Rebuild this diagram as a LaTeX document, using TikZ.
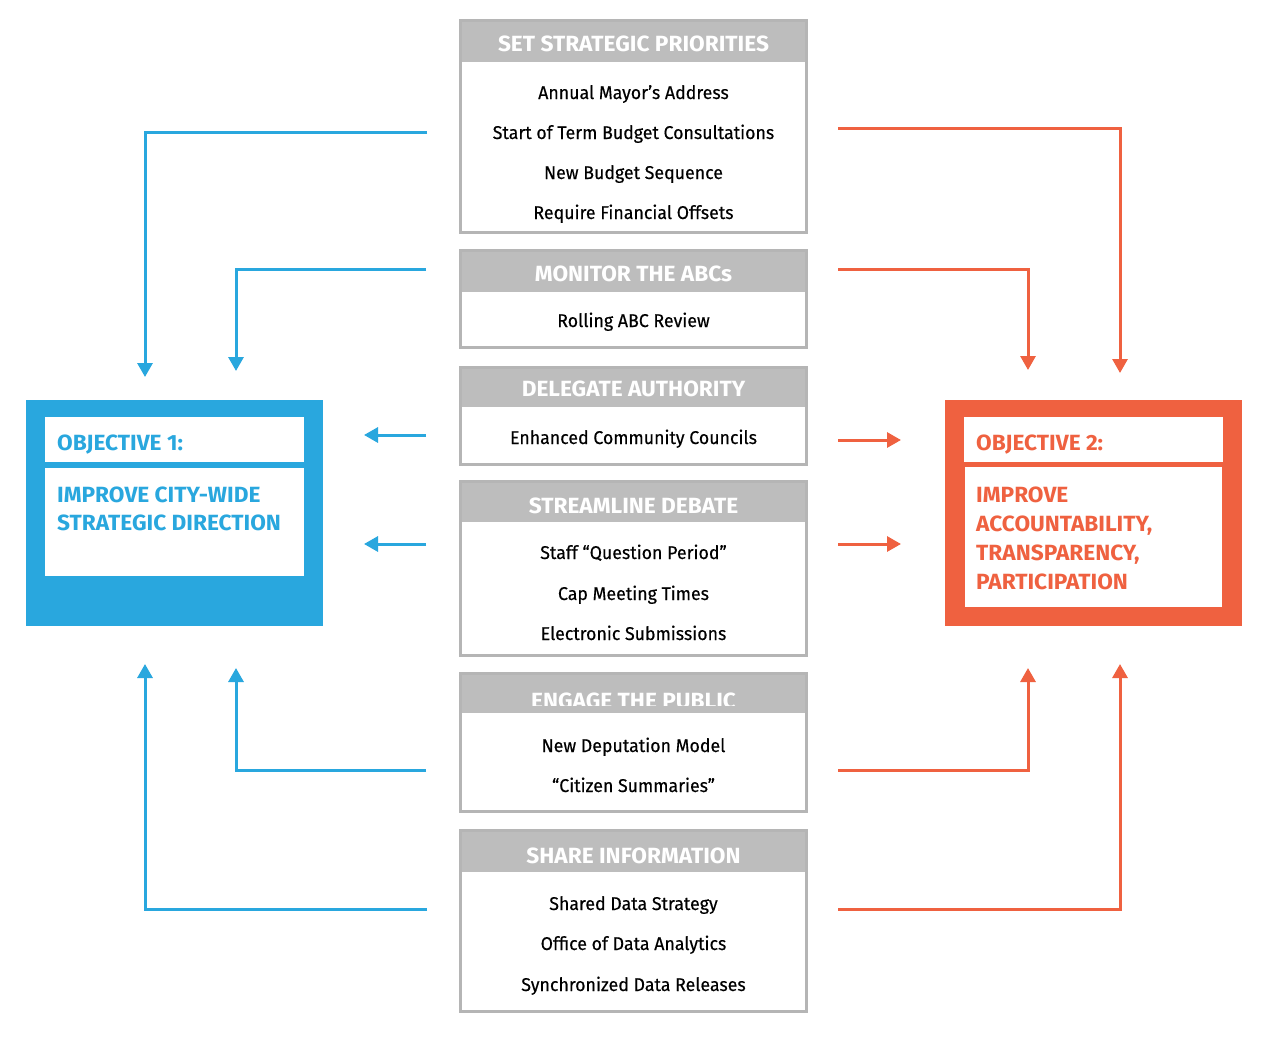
\documentclass[tikz,border=0pt]{standalone}
\usepackage{fontspec}
\setmainfont{Fira Sans}
\newfontfamily\bodyf[FakeStretch=0.96,FakeBold=0.35]{Fira Sans}
\newfontfamily\headf[FakeStretch=1.03]{Fira Sans}
\usetikzlibrary{arrows.meta}
\definecolor{cblue}{HTML}{29A7DE}
\definecolor{corange}{HTML}{EF6140}
\definecolor{gborder}{HTML}{B5B5B5}
\definecolor{ghead}{HTML}{BDBDBD}
\tikzset{
  item/.style={anchor=base, inner sep=0pt, font=\bodyf\fontsize{18.5}{21}\selectfont, text=black},
  hdr/.style={anchor=base, inner sep=0pt, font=\headf\bfseries\fontsize{22}{24}\selectfont, text=white},
  objt/.style={anchor=base west, inner sep=0pt, font=\headf\bfseries\fontsize{22}{29}\selectfont, align=left},
  bconn/.style={draw=cblue, line width=3pt, -{Triangle[width=15pt,length=14pt]}},
  oconn/.style={draw=corange, line width=3pt, -{Triangle[width=15pt,length=14pt]}},
}
% \mkbox{name}{top}{bottom}{header bottom}{title}{title baseline}{title clip y}
\newcommand\mkbox[7]{%
  \fill[ghead] (459,#2) rectangle (808,#4);
  \begin{scope}
    \clip (459,#2) rectangle (808,#7);
    \node[hdr] (#1h) at (633.5,#6) {#5};
  \end{scope}
  \fill[white] (459,#4) rectangle (808,#3);
  \node[draw=gborder, line width=2.8pt, minimum width=346, minimum height={#3-#2-3}, inner sep=0pt] (#1) at (633.5,{(#2+#3)/2}) {};
}
\begin{document}
\begin{tikzpicture}[x=1pt,y=-1pt]
\useasboundingbox (0,0) rectangle (1274,1036);
\fill[white] (0,0) rectangle (1274,1036);

% centre boxes
\mkbox{b1}{19}{234}{62}{SET STRATEGIC PRIORITIES}{51}{62}
\node[item] (b1i1) at (633.5,99) {Annual Mayor’s Address};
\node[item] (b1i2) at (633.5,139) {Start of Term Budget Consultations};
\node[item] (b1i3) at (633.5,179) {New Budget Sequence};
\node[item] (b1i4) at (633.5,219) {Require Financial Offsets};

\mkbox{b2}{249}{349}{292}{MONITOR THE ABCs}{281}{292}
\node[item] (b2i1) at (633.5,327) {Rolling ABC Review};

\mkbox{b3}{366}{466}{407}{DELEGATE AUTHORITY}{396}{407}
\node[item] (b3i1) at (633.5,444) {Enhanced Community Councils};

\mkbox{b4}{480}{657}{522}{STREAMLINE DEBATE}{513}{522}
\node[item] (b4i1) at (633.5,559) {Staff “Question Period”};
\node[item] (b4i2) at (633.5,600) {Cap Meeting Times};
\node[item] (b4i3) at (633.5,640) {Electronic Submissions};

\mkbox{b5}{672}{813}{713}{ENGAGE THE PUBLIC}{708}{705}
\node[item] (b5i1) at (633.5,752) {New Deputation Model};
\node[item] (b5i2) at (633.5,792) {“Citizen Summaries”};

\mkbox{b6}{829}{1013}{872}{SHARE INFORMATION}{863}{872}
\node[item] (b6i1) at (633.5,910) {Shared Data Strategy};
\node[item] (b6i2) at (633.5,950) {Office of Data Analytics};
\node[item] (b6i3) at (633.5,991) {Synchronized Data Releases};

% objective 1
\node[fill=cblue, minimum width=297, minimum height=226, inner sep=0pt] (o1) at (174.5,513) {};
\fill[white] (45,417) rectangle (304,462);
\fill[white] (45,468) rectangle (304,576);
\node[objt, text=cblue] (o1a) at (57,450) {OBJECTIVE 1:};
\node[objt, text=cblue] (o1b) at (57,502) {IMPROVE CITY-WIDE};
\node[objt, text=cblue] (o1c) at (57,530) {STRATEGIC DIRECTION};

% objective 2
\node[fill=corange, minimum width=297, minimum height=226, inner sep=0pt] (o2) at (1093.5,513) {};
\fill[white] (964,417) rectangle (1223,462);
\fill[white] (965,467) rectangle (1222,607);
\node[objt, text=corange] (o2a) at (976,450) {OBJECTIVE 2:};
\node[objt, text=corange] (o2b) at (976,502) {IMPROVE};
\node[objt, text=corange] (o2c) at (976,531) {ACCOUNTABILITY,};
\node[objt, text=corange] (o2d) at (976,560) {TRANSPARENCY,};
\node[objt, text=corange] (o2e) at (976,589) {PARTICIPATION};

% connector end points
\coordinate (l1s) at (427,132);  \coordinate (l1t) at (145,377);
\coordinate (l2s) at (426,269);  \coordinate (l2t) at (236,371);
\coordinate (l3s) at (426,435);  \coordinate (l3t) at (364,435);
\coordinate (l4s) at (426,544);  \coordinate (l4t) at (364,544);
\coordinate (l5s) at (426,770);  \coordinate (l5t) at (236,668);
\coordinate (l6s) at (427,909);  \coordinate (l6t) at (145,664);

\coordinate (r1s) at (838,128);  \coordinate (r1t) at (1120,373);
\coordinate (r2s) at (838,269);  \coordinate (r2t) at (1028,370);
\coordinate (r3s) at (838,440);  \coordinate (r3t) at (901,440);
\coordinate (r4s) at (838,544);  \coordinate (r4t) at (901,544);
\coordinate (r5s) at (838,770);  \coordinate (r5t) at (1028,668);
\coordinate (r6s) at (838,909);  \coordinate (r6t) at (1120,664);

\draw[bconn] (l1s) -| (l1t);
\draw[bconn] (l2s) -| (l2t);
\draw[bconn] (l3s) -- (l3t);
\draw[bconn] (l4s) -- (l4t);
\draw[bconn] (l5s) -| (l5t);
\draw[bconn] (l6s) -| (l6t);

\draw[oconn] (r1s) -| (r1t);
\draw[oconn] (r2s) -| (r2t);
\draw[oconn] (r3s) -- (r3t);
\draw[oconn] (r4s) -- (r4t);
\draw[oconn] (r5s) -| (r5t);
\draw[oconn] (r6s) -| (r6t);
\end{tikzpicture}
\end{document}
